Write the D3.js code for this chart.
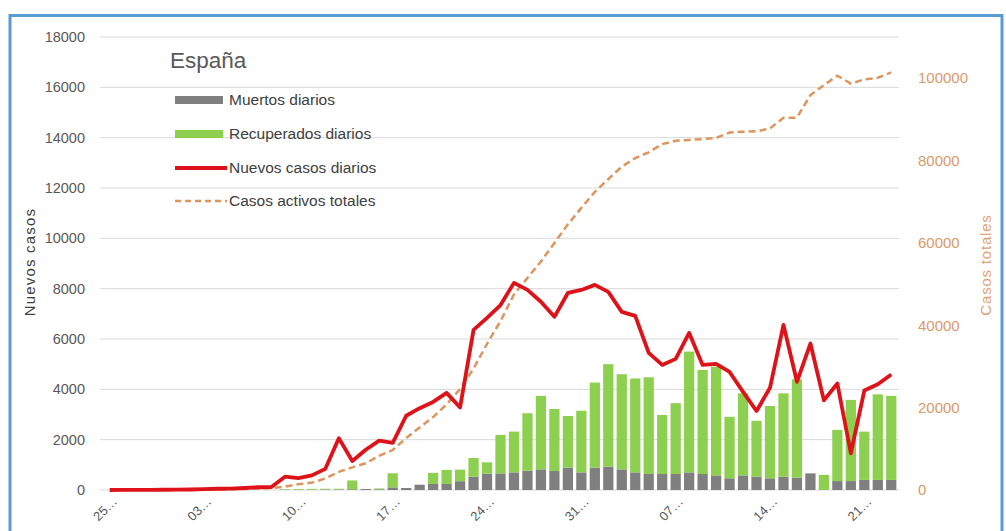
<!DOCTYPE html>
<html>
<head>
<meta charset="utf-8">
<script src="https://cdn.jsdelivr.net/npm/d3@7"></script>
<style>
  body { margin: 0; background: #fff; }
  svg { display: block; font-family: "Liberation Sans", "DejaVu Sans", sans-serif; }
</style>
</head>
<body>
<svg id="chart" width="1006" height="531"></svg>
<script>
// dias: 25 feb -> 23 abr
const days = [
  "25-feb","26-feb","27-feb","28-feb","29-feb","01-mar","02-mar","03-mar","04-mar","05-mar",
  "06-mar","07-mar","08-mar","09-mar","10-mar","11-mar","12-mar","13-mar","14-mar","15-mar",
  "16-mar","17-mar","18-mar","19-mar","20-mar","21-mar","22-mar","23-mar","24-mar","25-mar",
  "26-mar","27-mar","28-mar","29-mar","30-mar","31-mar","01-abr","02-abr","03-abr","04-abr",
  "05-abr","06-abr","07-abr","08-abr","09-abr","10-abr","11-abr","12-abr","13-abr","14-abr",
  "15-abr","16-abr","17-abr","18-abr","19-abr","20-abr","21-abr","22-abr","23-abr"
];
const tickIdx = [0, 7, 14, 21, 28, 35, 42, 49, 56];
const tickLabels = ["25…", "03…", "10…", "17…", "24…", "31…", "07…", "14…", "21…"];

const muertos = [
  0,0,0,0,0,0,0,0,0,0,
  0,0,0,10,10,15,20,20,30,40,
  30,105,80,210,240,240,350,530,650,660,
  700,770,820,755,890,700,890,930,820,700,
  635,635,635,700,635,580,465,580,530,465,
  530,490,660,0,355,355,400,400,400
];
const recuperados = [
  0,0,0,0,0,0,0,0,0,0,
  0,0,0,20,30,30,30,30,350,0,
  30,560,0,0,440,560,460,740,450,1530,
  1620,2280,2920,2465,2050,2450,3380,4070,3780,3730,
  3845,2345,2815,4800,4135,4320,2445,3260,2220,2875,
  3310,3910,0,600,2035,3225,1920,3400,3340
];
const nuevos = [
  0,2,3,5,10,12,20,35,50,55,
  80,110,120,530,470,580,840,2060,1150,1600,
  1960,1870,2950,3250,3500,3860,3280,6360,6840,7350,
  8230,7950,7480,6880,7830,7950,8150,7870,7080,6920,
  5450,4970,5210,6240,4970,5010,4690,3900,3140,4060,
  6560,4300,5820,3560,4230,1460,3950,4200,4590
];
const activos = [
  0,0,10,20,30,50,70,100,130,180,
  250,350,500,800,1400,1800,2800,4400,5500,6500,
  8300,9700,12600,15200,17700,20800,24500,29500,35500,41000,
  47500,51500,55500,60000,64500,68500,72400,75500,78500,80600,
  82000,84000,84800,85000,85200,85500,86800,87000,87100,87800,
  90400,90400,95900,98300,100600,98700,99700,100100,101400
];
const leftTicks = [0,2000,4000,6000,8000,10000,12000,14000,16000,18000];
const rightTicks = [0,20000,40000,60000,80000,100000];

const svg = d3.select("#chart");
const plotL = 102, plotR = 899, plotT = 37, plotB = 490;

const x = d3.scaleBand().domain(d3.range(days.length)).range([plotL + 1, plotR - 1]).paddingInner(0.24).paddingOuter(0.12);
const yL = d3.scaleLinear().domain([0, 18000]).range([plotB, plotT]);
const yR = d3.scaleLinear().domain([0, 110000]).range([plotB, plotT]);
const cx = i => x(i) + x.bandwidth() / 2;

// marco azul
svg.append("rect").attr("x", 10).attr("y", 15.5).attr("width", 992).attr("height", 530)
  .attr("fill", "none").attr("stroke", "#5b9bd5").attr("stroke-width", 3);

// rejilla
svg.append("g").selectAll("line").data(leftTicks.slice(1)).join("line")
  .attr("x1", plotL - 2).attr("x2", plotR).attr("y1", d => yL(d)).attr("y2", d => yL(d))
  .attr("stroke", "#d9d9d9").attr("stroke-width", 1);

// eje izquierdo
const axL = svg.append("g").attr("transform", `translate(${plotL - 2},0)`)
  .call(d3.axisLeft(yL).tickValues(leftTicks).tickSize(0).tickPadding(15).tickFormat(d3.format("d")));
axL.select(".domain").remove();
axL.selectAll("text").attr("fill", "#595959").style("font-size", "14.5px");

// eje derecho
const axR = svg.append("g").attr("transform", `translate(${plotR},0)`)
  .call(d3.axisRight(yR).tickValues(rightTicks).tickSize(0).tickPadding(19).tickFormat(d3.format("d")));
axR.select(".domain").remove();
axR.selectAll("text").attr("fill", "#d99a6c").style("font-size", "15px");

// eje x
svg.append("line").attr("x1", plotL - 2).attr("x2", plotR).attr("y1", plotB).attr("y2", plotB)
  .attr("stroke", "#d9d9d9");
svg.append("g").selectAll("text").data(tickIdx).join("text")
  .attr("transform", i => `translate(${cx(i) + 5},${plotB + 9}) rotate(-45)`)
  .attr("text-anchor", "end").attr("dy", "0.35em")
  .attr("fill", "#595959").style("font-size", "13px")
  .text((i, k) => tickLabels[k]);

// barras apiladas
const rows = days.map((d, i) => ({ i, muertos: muertos[i], recuperados: recuperados[i] }));
const stack = d3.stack().keys(["muertos", "recuperados"])(rows);
const barColor = { muertos: "#7f7f7f", recuperados: "#8dcf4e" };
svg.append("g").selectAll("g").data(stack).join("g")
  .attr("fill", s => barColor[s.key])
  .selectAll("rect").data(s => s).join("rect")
  .attr("x", d => x(d.data.i)).attr("width", x.bandwidth())
  .attr("y", d => yL(d[1])).attr("height", d => yL(d[0]) - yL(d[1]));

// casos activos (eje derecho)
svg.append("path").datum(activos)
  .attr("d", d3.line().x((v, i) => cx(i)).y(v => yR(v)))
  .attr("fill", "none").attr("stroke", "#dd9560").attr("stroke-width", 2.5)
  .attr("stroke-dasharray", "7,4");

// nuevos casos
svg.append("path").datum(nuevos)
  .attr("d", d3.line().x((v, i) => cx(i)).y(v => yL(v)))
  .attr("fill", "none").attr("stroke", "#de1219").attr("stroke-width", 3.8)
  .attr("stroke-linejoin", "round");

// titulos de ejes
svg.append("text").attr("transform", "translate(35,262) rotate(-90)")
  .attr("text-anchor", "middle").attr("fill", "#404040").style("font-size", "15px")
  .style("letter-spacing", "1.2px").text("Nuevos casos");
svg.append("text").attr("transform", "translate(991,265) rotate(-90)")
  .attr("text-anchor", "middle").attr("fill", "#e0a375").style("font-size", "15px")
  .style("letter-spacing", "0.8px").text("Casos totales");

// leyenda
const lg = svg.append("g");
lg.append("text").attr("x", 170).attr("y", 68).attr("fill", "#595959").style("font-size", "22.5px").text("España");
const items = [
  { name: "Muertos diarios", type: "bar", color: "#7f7f7f" },
  { name: "Recuperados diarios", type: "bar", color: "#8dcf4e" },
  { name: "Nuevos casos diarios", type: "line", color: "#de1219" },
  { name: "Casos activos totales", type: "dash", color: "#dd9560" }
];
const rowY = [100, 134, 168, 201];
items.forEach((it, k) => {
  const yy = rowY[k];
  if (it.type === "bar") {
    lg.append("rect").attr("x", 175).attr("y", yy - 4).attr("width", 48).attr("height", 8).attr("fill", it.color);
  } else {
    lg.append("line").attr("x1", 175).attr("x2", 227).attr("y1", yy).attr("y2", yy)
      .attr("stroke", it.color).attr("stroke-width", it.type === "line" ? 3.8 : 2.5)
      .attr("stroke-dasharray", it.type === "dash" ? "6,4" : null);
  }
  lg.append("text").attr("x", 229).attr("y", yy).attr("dy", "0.35em")
    .attr("fill", "#404040").style("font-size", "15.5px").text(it.name);
});
</script>
</body>
</html>
